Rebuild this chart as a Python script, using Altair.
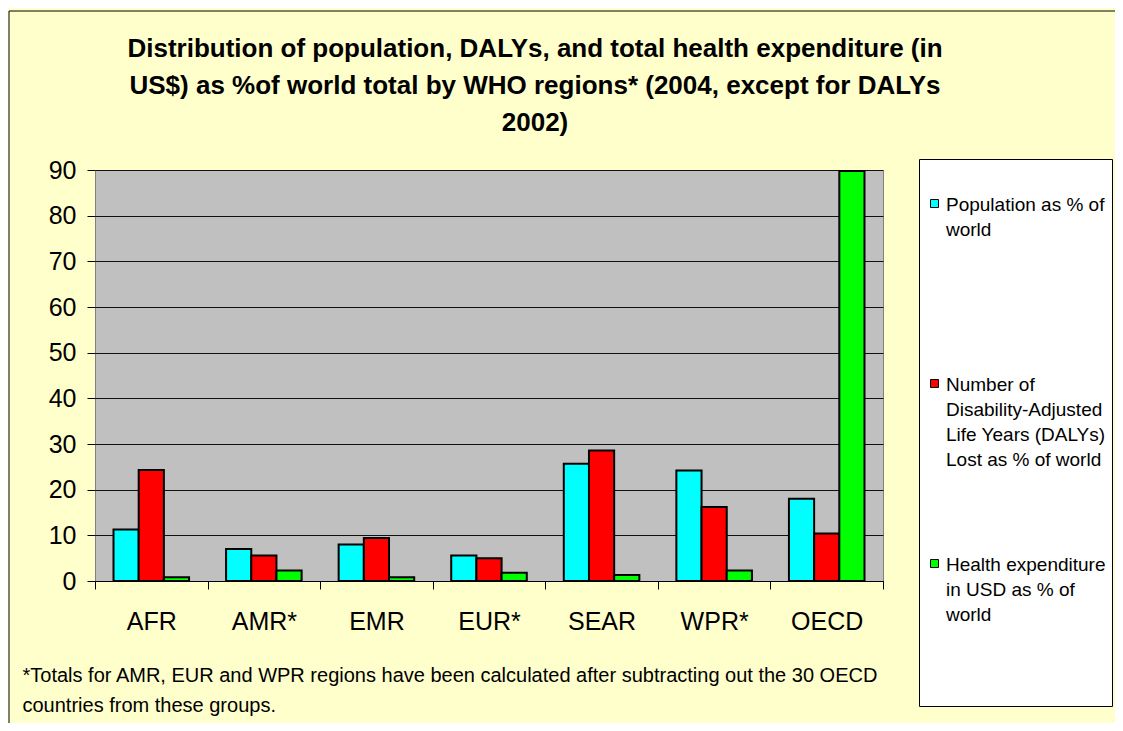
import altair as alt
import pandas as pd

regions = ["AFR", "AMR*", "EMR", "EUR*", "SEAR", "WPR*", "OECD"]
population = [11.3, 7.0, 8.0, 5.6, 25.7, 24.2, 18.0]
dalys = [24.3, 5.6, 9.4, 5.0, 28.6, 16.2, 10.4]
health = [0.8, 2.3, 0.8, 1.8, 1.3, 2.3, 89.8]

series = [
    "Population as % of|world",
    "Number of|Disability-Adjusted|Life Years (DALYs)|Lost as % of world",
    "Health expenditure|in USD as % of|world",
]
colors = ["#00FFFF", "#FF0000", "#00FF00"]

title_lines = [
    "Distribution of population, DALYs, and total health expenditure (in",
    "US$) as %of world total by WHO regions* (2004, except for DALYs",
    "2002)",
]
footnote_lines = [
    "*Totals for AMR, EUR and WPR regions have been calculated after subtracting out the 30 OECD",
    "countries from these groups.",
]
y_ticks = list(range(0, 91, 10))

rows = []
for i, r in enumerate(regions):
    for s, vals in zip(series, [population, dalys, health]):
        rows.append({"region": r, "series": s, "value": vals[i]})
df = pd.DataFrame(rows)

FONT = "Liberation Sans"

bars = alt.Chart(df).mark_bar(stroke="black", strokeWidth=2).encode(
    x=alt.X(
        "region:N",
        sort=regions,
        scale=alt.Scale(paddingInner=0, paddingOuter=0),
        axis=alt.Axis(
            title=footnote_lines,
            titleFont=FONT,
            titleFontSize=20,
            titleFontWeight="normal",
            titleColor="black",
            titleAnchor="start",
            titleAlign="left",
            titleBaseline="top",
            titleX=-73,
            titleY=84,
            titleLineHeight=30,
            titleLimit=1100,
            labelAngle=0,
            labelFont=FONT,
            labelFontSize=25,
            labelColor="black",
            labelPadding=20,
            tickBand="extent",
            tickSize=8,
            tickColor="black",
            domainColor="black",
            domainWidth=1,
            grid=False,
        ),
    ),
    xOffset=alt.XOffset(
        "series:N",
        sort=series,
        scale=alt.Scale(paddingOuter=0.735, paddingInner=0),
    ),
    y=alt.Y(
        "value:Q",
        scale=alt.Scale(domain=[0, 90], nice=False),
        axis=alt.Axis(
            values=y_ticks,
            title=None,
            labelFont=FONT,
            labelFontSize=25,
            labelColor="black",
            labelPadding=11,
            tickSize=8,
            tickColor="black",
            domain=False,
            grid=True,
            gridColor="#111111",
            gridWidth=1,
        ),
    ),
    color=alt.Color(
        "series:N",
        sort=series,
        scale=alt.Scale(domain=series, range=colors),
        legend=alt.Legend(
            orient="none",
            legendX=824,
            legendY=-11,
            title=" ",
            titleFontSize=14,
            titlePadding=7,
            fillColor="white",
            strokeColor="black",
            padding=6,
            symbolType="M-1,1H1V3H-1Z",
            symbolSize=64,
            symbolStrokeColor="black",
            symbolStrokeWidth=1,
            symbolOpacity=1,
            labelFont=FONT,
            labelFontSize=19,
            labelColor="black",
            labelExpr="split(datum.label + '|||', '|')",
            labelLimit=400,
            labelBaseline="top",
            labelOffset=2,
            rowPadding=1,
            gridAlign="all",
        ),
    ),
)

frame_top = alt.Chart(alt.Data(values=[{}])).mark_rule(color="black", strokeWidth=1).encode(
    x=alt.value(-86), x2=alt.value(1030), y=alt.value(-159)
)
frame_left = alt.Chart(alt.Data(values=[{}])).mark_rule(color="black", strokeWidth=1).encode(
    x=alt.value(-86), y=alt.value(-159), y2=alt.value(570)
)

chart = alt.layer(bars, frame_top, frame_left).properties(
    width=788,
    height=411,
    title=alt.TitleParams(
        text=title_lines,
        font=FONT,
        fontSize=26,
        fontWeight="bold",
        color="black",
        anchor="middle",
        dx=46,
        lineHeight=37,
        offset=-125,
    ),
    padding={"left": 87, "top": 162, "right": 232, "bottom": 142},
    autosize=alt.AutoSizeParams(type="none"),
).configure(
    background="#FFFFCC",
    style={"guide-label": {"lineHeight": 25}},
).configure_view(
    fill="#C0C0C0",
    stroke="#808080",
    strokeWidth=1,
)

chart.save("out.html", embed_options={"renderer": "svg", "actions": False})
